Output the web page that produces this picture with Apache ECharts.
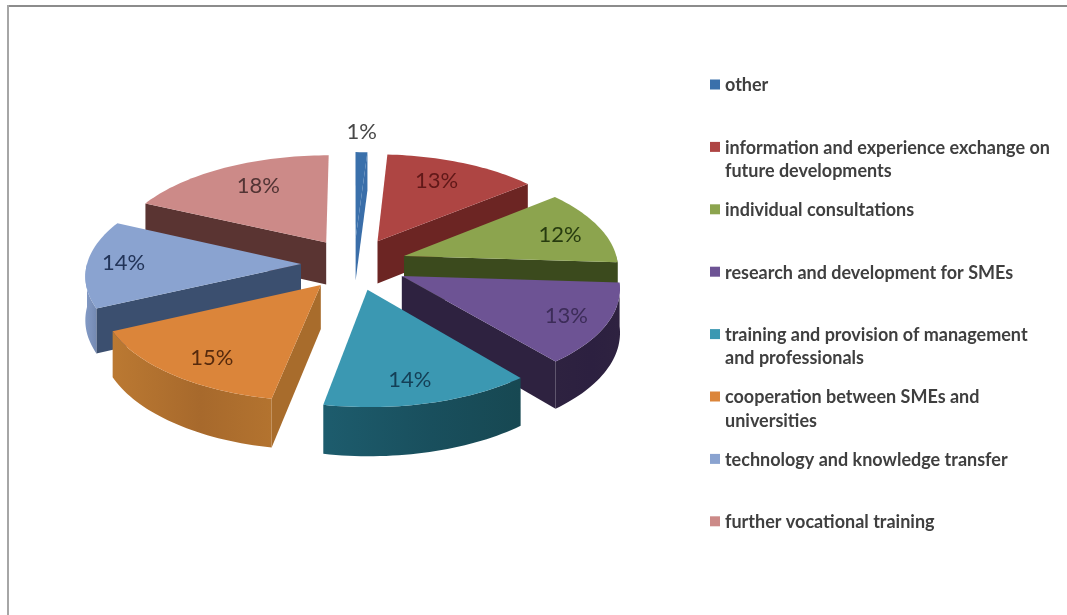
<!DOCTYPE html>
<html>
<head>
<meta charset="utf-8">
<style>html,body{margin:0;padding:0;background:#fff}#chart{width:1067px;height:615px}</style>
<script src="https://cdn.jsdelivr.net/npm/echarts@6/dist/echarts.min.js"></script>
</head>
<body>
<div id="chart"></div>
<script>
// Shares of each support measure, in percent, clockwise from twelve o'clock
const categories = [
  'other',
  'information and experience exchange on future developments',
  'individual consultations',
  'research and development for SMEs',
  'training and provision of management and professionals',
  'cooperation between SMEs and universities',
  'technology and knowledge transfer',
  'further vocational training'
];
const shares = [1, 13, 12, 13, 14, 15, 14, 18];

// Face colours per slice
const topColors    = ['#3a70ab', '#ae4543', '#8ca44e', '#6d5394', '#3b98b2', '#db853a', '#8aa3d0', '#cc8a88'];
const radialColors = ['#3a6ea9', '#6c2523', '#3b4a1d', '#2e2240', '#1b5363', '#a86c2c', '#3b4f6f', '#5a3432'];
const rimColors    = [
  ['#3a6ea9', '#3a6ea9', '#3a6ea9'], ['#6c2523', '#6c2523', '#6c2523'],
  ['#3b4a1d', '#3b4a1d', '#3b4a1d'], ['#2e2240', '#2c2040', '#2e2240'],
  ['#1d5c6d', '#194f5d', '#174852'], ['#bb7932', '#a7692c', '#b3732f'],
  ['#8199c4', '#7c92bc', '#7389b2'], ['#5a3432', '#5a3432', '#5a3432']
];
const labelColors  = ['#484848', '#601818', '#273b0f', '#3c2c58', '#143f56', '#562a0d', '#223458', '#523434'];
// Where each percentage label sits along its slice's radius, plus a small hand nudge
const labelReach   = [1.26, 0.66, 0.74, 0.84, 0.84, 0.84, 0.81, 0.65];
const labelNudge   = [[-1, 0], [1, -7], [11, 1], [-6, -1], [-9, -3], [14, -1], [-4, -1], [0, -7]];

// Pie geometry: ellipse radii, explosion offset, extrusion and perspective strength
const pie = { cx: 354, cy: 264, rx: 214, ry: 100, ex: 53, ey: 26, depth: 43, persp: 0.0010 };
const legendBox = { swatchX: 710, textX: 725, firstY: 84.5, textDrop: 1, step: 62.4, width: 332, lineHeight: 23.5 };

const rad = d => d * Math.PI / 180;
const total = shares.reduce((a, b) => a + b, 0);
let running = 0;
const spans = shares.map(v => {
  const from = running / total * 360;
  running += v;
  return [from, running / total * 360];
});

function project(wx, wy, h) {
  const f = 1 / (1 + pie.persp * wy);
  return [pie.cx + wx * f, pie.cy - wy * f + h * f];
}

function renderSlice(params, api) {
  const i = api.value(0);
  const [a1, a2] = spans[i];
  const mid = (a1 + a2) / 2;
  const ax = pie.ex * Math.sin(rad(mid));
  const ay = pie.ey * Math.cos(rad(mid));
  const edge = (deg, h) => project(ax + pie.rx * Math.sin(rad(deg)), ay + pie.ry * Math.cos(rad(deg)), h);
  const apex = h => project(ax, ay, h);
  // Paint order runs from the back of the pie to the front
  const layer = Math.round((1 - Math.cos(rad(mid))) * 100) * 10;
  const children = [];

  const arc = (from, to, h) => {
    const pts = [];
    const n = Math.max(2, Math.ceil((to - from) / 1.5));
    for (let k = 0; k <= n; k++) pts.push(edge(from + (to - from) * k / n, h));
    return pts;
  };
  const radial = deg => ({
    type: 'polygon', z2: layer + 1,
    shape: { points: [apex(0), edge(deg, 0), edge(deg, pie.depth), apex(pie.depth)] },
    style: { fill: radialColors[i] }
  });

  if (Math.sin(rad(a1)) < -1e-6) children.push(radial(a1));
  if (Math.sin(rad(a2)) > 1e-6) children.push(radial(a2));

  const rimFrom = Math.max(a1, 90), rimTo = Math.min(a2, 270);
  if (rimTo > rimFrom) {
    const top = arc(rimFrom, rimTo, 0);
    const bottom = arc(rimFrom, rimTo, pie.depth).reverse();
    children.push({
      type: 'polygon', z2: layer + 2,
      shape: { points: top.concat(bottom) },
      style: {
        fill: new echarts.graphic.LinearGradient(0, 0, 1, 0, [
          { offset: 0, color: rimColors[i][0] },
          { offset: 0.55, color: rimColors[i][1] },
          { offset: 1, color: rimColors[i][2] }
        ])
      }
    });
  }

  children.push({
    type: 'polygon', z2: layer + 3,
    shape: { points: [apex(0)].concat(arc(a1, a2, 0)) },
    style: { fill: topColors[i] }
  });

  const reach = labelReach[i];
  const at = project(ax + reach * pie.rx * Math.sin(rad(mid)), ay + reach * pie.ry * Math.cos(rad(mid)), 0);
  children.push({
    type: 'text', z2: 5000,
    style: {
      x: at[0] + labelNudge[i][0], y: at[1] + labelNudge[i][1], text: api.value(1) + '%',
      align: 'center', verticalAlign: 'middle',
      font: '22px Lato', fill: labelColors[i]
    }
  });
  return { type: 'group', children };
}

// Key on the right: one swatch and one wrapped caption per category
const keyItems = [];
categories.forEach((name, i) => {
  const y = legendBox.firstY + i * legendBox.step;
  keyItems.push({
    type: 'rect',
    shape: { x: legendBox.swatchX, y: y - 5, width: 10, height: 10 },
    style: { fill: topColors[i] }
  });
  keyItems.push({
    type: 'text',
    style: {
      x: legendBox.textX, y: y - legendBox.lineHeight / 2 + legendBox.textDrop,
      text: name, width: legendBox.width, overflow: 'break',
      lineHeight: legendBox.lineHeight,
      font: 'bold 18px Lato', fill: '#3f3f3f'
    }
  });
});

const frame = [
  { type: 'rect', shape: { x: 7, y: 5, width: 1060, height: 2 }, style: { fill: '#8c8c8c' } },
  { type: 'rect', shape: { x: 7, y: 5, width: 2, height: 610 }, style: { fill: '#a6a6a6' } }
];

const chart = echarts.init(document.getElementById('chart'), null, { renderer: 'canvas' });
chart.setOption({
  animation: false,
  backgroundColor: '#ffffff',
  graphic: { elements: frame.concat(keyItems) },
  series: [{
    type: 'custom',
    coordinateSystem: 'none',
    renderItem: renderSlice,
    encode: { value: 1 },
    data: shares.map((v, i) => [i, v])
  }]
});
</script>
</body>
</html>
